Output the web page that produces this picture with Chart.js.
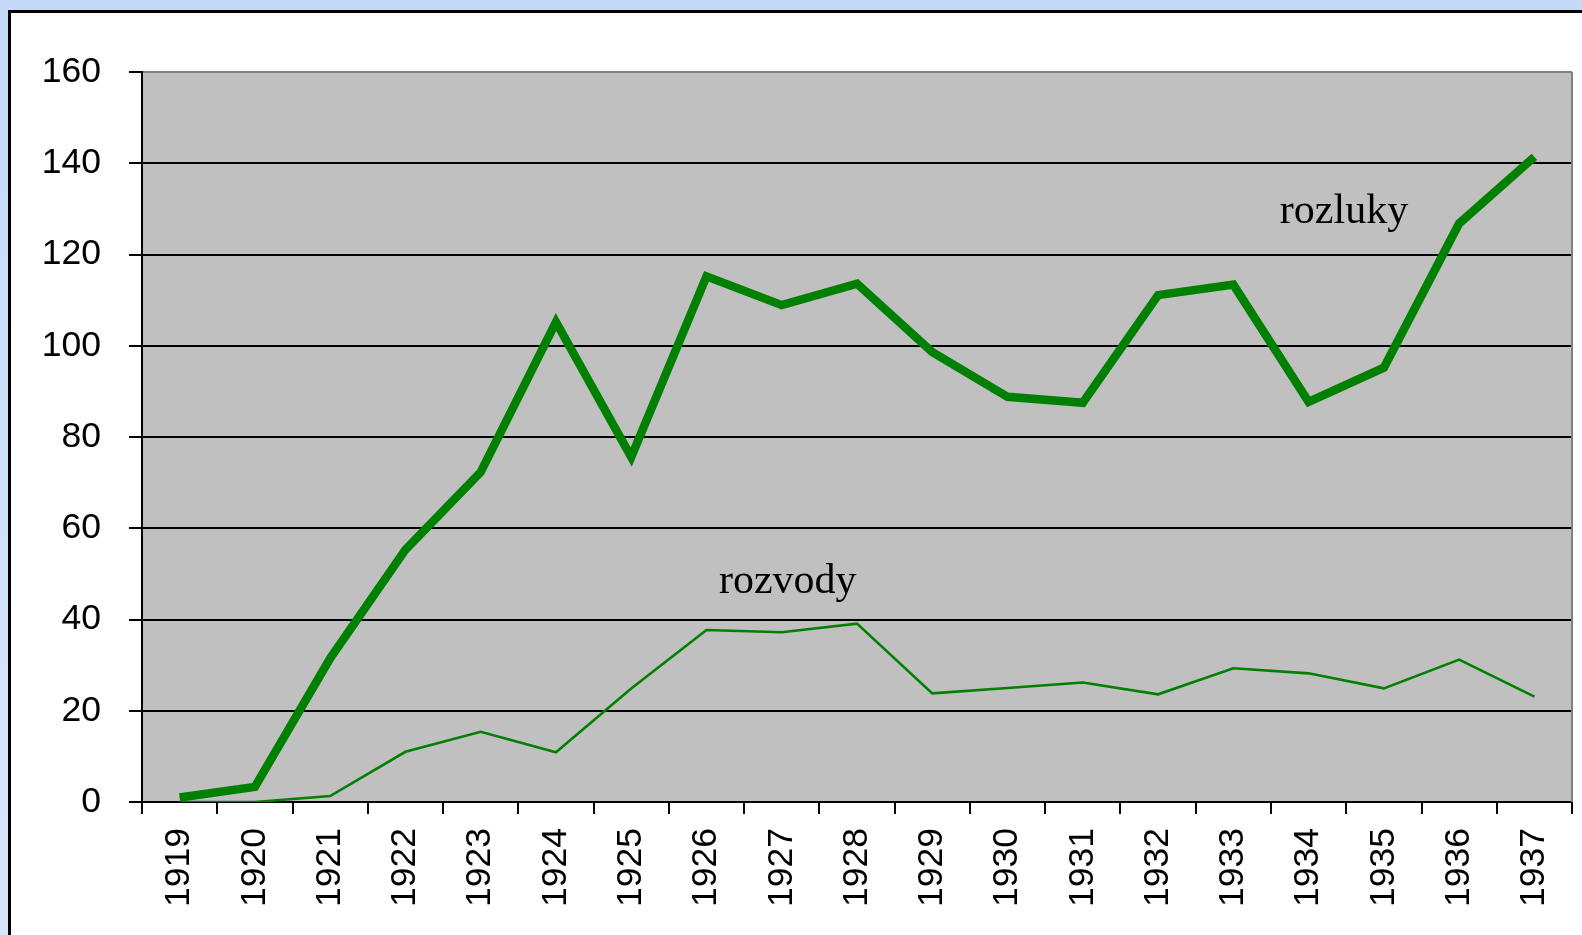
<!DOCTYPE html>
<html>
<head>
<meta charset="utf-8">
<script src="https://cdn.jsdelivr.net/npm/chart.js@4"></script>
<style>
  html, body { margin: 0; padding: 0; overflow: hidden; }
  body { width: 1582px; height: 935px; background: linear-gradient(180deg, #c4daf8 0%, #d8e6fb 100%); position: relative; }
  #panel { position: absolute; left: 8px; top: 10px; width: 1600px; height: 1000px; background: #fff; border: 3px solid #000; box-sizing: border-box; }
  #wrap { position: absolute; left: 0; top: 0; width: 1591px; height: 935px; }
</style>
</head>
<body>
<div id="panel"></div>
<div id="wrap"><canvas id="chart" width="1591" height="935"></canvas></div>
<script>
const years = ['1919', '1920', '1921', '1922', '1923', '1924', '1925', '1926', '1927', '1928',
  '1929', '1930', '1931', '1932', '1933', '1934', '1935', '1936', '1937'];
const rozluky = [1, 3.3, 31.5, 55.3, 72.3, 105.2, 75.6, 115.2, 108.9, 113.6,
  98.6, 88.8, 87.5, 111.1, 113.4, 87.7, 95.2, 126.8, 141.4];
const rozvody = [0, 0, 1.3, 11.0, 15.4, 10.9, 24.9, 37.7, 37.2, 39.1,
  23.8, 25.0, 26.2, 23.6, 29.3, 28.2, 24.9, 31.2, 23.1];
const yTicks = [0, 20, 40, 60, 80, 100, 120, 140, 160];

// series names written inside the plot, placed at (category index, value)
const notes = [
  { text: 'rozluky', at: 15.47, value: 126.8 },
  { text: 'rozvody', at: 8.08, value: 45.8 },
];

const GREEN = '#008000';
const sansFont = { family: "'Liberation Sans', Arial, sans-serif", size: 35.5 };

const plotFrame = {
  id: 'plotFrame',
  beforeDraw(chart) {
    const { ctx, chartArea: a } = chart;
    ctx.save();
    ctx.fillStyle = '#c0c0c0';
    ctx.fillRect(a.left, a.top, a.right - a.left, a.bottom - a.top);
    ctx.restore();
  },
  beforeDatasetsDraw(chart) {
    const { ctx, chartArea: a } = chart;
    ctx.save();
    ctx.strokeStyle = '#808080';
    ctx.lineWidth = 2;
    ctx.beginPath();
    ctx.moveTo(a.right, a.top);
    ctx.lineTo(a.right, a.bottom);
    ctx.stroke();
    ctx.restore();
  },
  afterDatasetsDraw(chart) {
    const { ctx, scales } = chart;
    ctx.save();
    ctx.fillStyle = '#000';
    ctx.font = "42px 'Liberation Serif', 'Times New Roman', serif";
    ctx.textAlign = 'center';
    ctx.textBaseline = 'alphabetic';
    for (const n of notes) {
      ctx.fillText(n.text, scales.x.getPixelForValue(n.at), scales.y.getPixelForValue(n.value));
    }
    ctx.restore();
  },
};

new Chart(document.getElementById('chart'), {
  type: 'line',
  data: {
    labels: years,
    datasets: [
      { label: 'rozluky', data: rozluky, borderColor: GREEN, borderWidth: 8.5, pointRadius: 0, tension: 0, borderCapStyle: 'butt' },
      { label: 'rozvody', data: rozvody, borderColor: GREEN, borderWidth: 2.6, pointRadius: 0, tension: 0 },
    ],
  },
  options: {
    responsive: false,
    devicePixelRatio: 1,
    animation: false,
    layout: { padding: { top: 72, right: 0, left: 0, bottom: 0 } },
    plugins: { legend: { display: false }, tooltip: { enabled: false } },
    scales: {
      x: {
        offset: true,
        grid: { offset: true, drawOnChartArea: false, color: '#000', lineWidth: 2, tickLength: 12 },
        border: { color: '#000', width: 2 },
        ticks: { minRotation: 90, maxRotation: 90, autoSkip: false, color: '#000', font: sansFont, padding: 14 },
        afterFit: (s) => { s.height = 133; },
      },
      y: {
        min: 0,
        max: 160,
        afterBuildTicks: (s) => { s.ticks = yTicks.map((v) => ({ value: v })); },
        grid: {
          color: (c) => (c.tick && c.tick.value === 160 ? '#808080' : '#000'),
          tickColor: '#000',
          lineWidth: 2,
          tickLength: 13,
        },
        border: { color: '#000', width: 2 },
        ticks: { color: '#000', font: sansFont, padding: 28 },
        afterFit: (s) => { s.width = 142; },
      },
    },
  },
  plugins: [plotFrame],
});
</script>
</body>
</html>
